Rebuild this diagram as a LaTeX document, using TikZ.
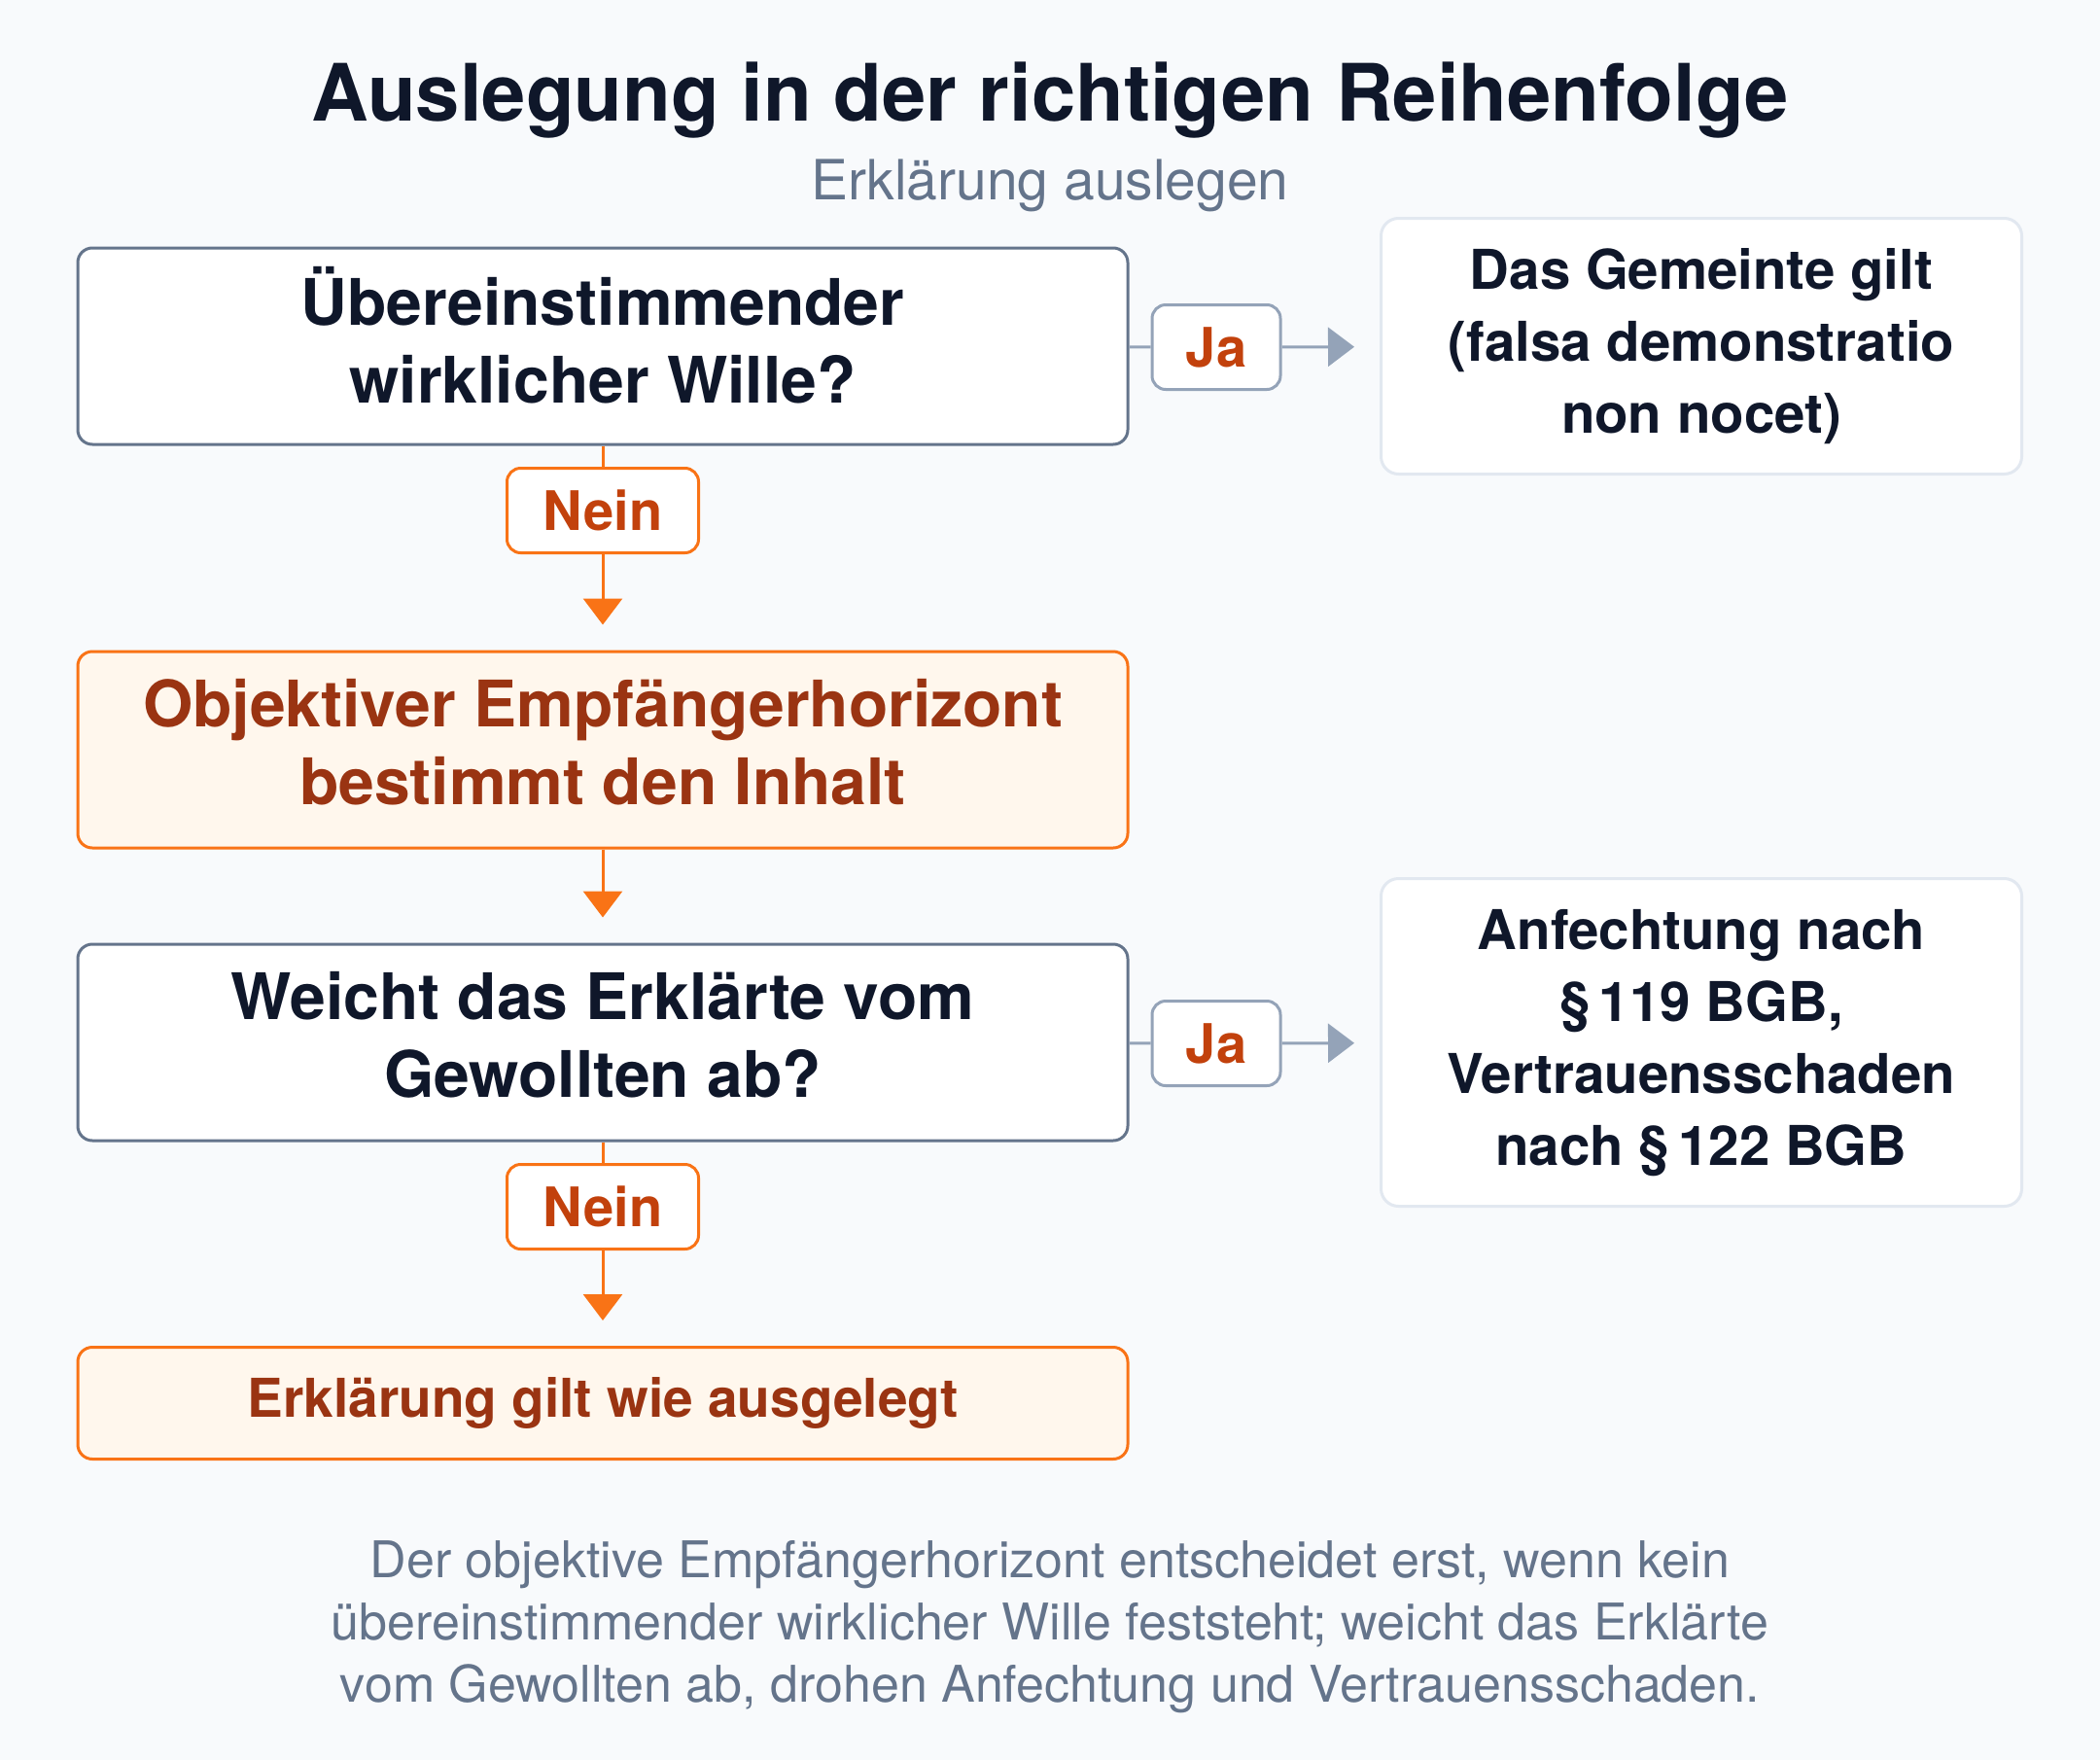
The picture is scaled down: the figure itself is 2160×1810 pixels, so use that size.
\documentclass[tikz,border=0pt]{standalone}
\usepackage{fontspec}
\setmainfont{TeX Gyre Heros}
\usetikzlibrary{arrows.meta}
\definecolor{hintergrund}{HTML}{F8FAFC}
\definecolor{tinte}{HTML}{0F172A}
\definecolor{randgrau}{HTML}{64748B}
\definecolor{hellgrau}{HTML}{E2E8F0}
\definecolor{blaugrau}{HTML}{94A3B8}
\definecolor{orange}{HTML}{F97316}
\definecolor{orangehell}{HTML}{FFF7ED}
\definecolor{orangedunkel}{HTML}{9A3412}
\definecolor{orangetext}{HTML}{C2410C}
% Zeilenstrebe wie eine Zeilenhoehe
\newcommand{\zs}{\rule[-0.29\baselineskip]{0pt}{\baselineskip}}
\begin{document}
\begin{tikzpicture}[x=0.5pt,y=-0.5pt,
  frage/.style={draw=randgrau, fill=white, line width=1.5pt, rounded corners=7.5pt,
    minimum width=540pt, minimum height=101pt, align=center, text=tinte,
    font=\bfseries\fontsize{33}{40}\selectfont},
  ergebnis/.style={frage, draw=orange, fill=orangehell, text=orangedunkel},
  folge/.style={draw=hellgrau, fill=white, line width=1.5pt, rounded corners=9pt,
    minimum width=329.5pt, align=center, text=tinte,
    font=\bfseries\fontsize{28.2}{36.85}\selectfont},
  ja/.style={draw=blaugrau, fill=white, line width=1.5pt, rounded corners=7pt,
    minimum width=66pt, minimum height=43.5pt, text=orangetext,
    font=\bfseries\fontsize{28}{32}\selectfont},
  nein/.style={ja, draw=orange, minimum width=98.5pt},
  pfeil/.style={-{Triangle[length=13.5pt,width=20pt]}, line width=1.5pt, shorten >=13pt}]

  % Hintergrund
  \fill[hintergrund] (0,0) rectangle (2160,1810);
  \useasboundingbox (0,0) rectangle (2160,1810);

  % Titel
  \node[anchor=base, text=tinte, font=\bfseries\fontsize{40.7}{48}\selectfont] (titel) at (1080,124) {Auslegung in der richtigen Reihenfolge};
  \node[anchor=base, text=randgrau, font=\fontsize{28.5}{34}\selectfont] (untertitel) at (1080,205) {Erklärung auslegen};

  % Schritte
  \node[frage] (wille) at (620,356) {\zs Übereinstimmender\\wirklicher Wille?\zs};
  \node[folge, minimum height=131.5pt] (falsa) at (1750,356) {\zs Das Gemeinte gilt\\(falsa demonstratio\\non nocet)\zs};
  \node[ja] (ja1) at (1251,357) {Ja};
  \node[nein] (nein1) at (620,525) {Nein};

  \node[ergebnis] (horizont) at (620,771) {\zs Objektiver Empfängerhorizont\\bestimmt den Inhalt\zs};

  \node[frage] (abweichung) at (620,1072) {\zs Weicht das Erklärte vom\\Gewollten ab?\zs};
  \node[folge, minimum height=168.5pt] (anfechtung) at (1750,1072) {\zs Anfechtung nach\\§\,119 BGB,\\Vertrauensschaden\\nach §\,122 BGB\zs};
  \node[ja] (ja2) at (1251,1073) {Ja};
  \node[nein] (nein2) at (620,1241) {Nein};

  \node[ergebnis, minimum height=57.5pt, font=\bfseries\fontsize{27.5}{32}\selectfont] (gilt) at (620,1443) {Erklärung gilt wie ausgelegt};

  % Verbindungen
  \draw[orange, line width=1.5pt] (wille) -- (nein1);
  \draw[pfeil, orange] (nein1) -- (horizont);
  \draw[pfeil, orange] (horizont) -- (abweichung);
  \draw[orange, line width=1.5pt] (abweichung) -- (nein2);
  \draw[pfeil, orange] (nein2) -- (gilt);

  \draw[blaugrau, line width=1.5pt] (wille) -- (ja1);
  \draw[pfeil, blaugrau] (ja1) -- (falsa);
  \draw[blaugrau, line width=1.5pt] (abweichung) -- (ja2);
  \draw[pfeil, blaugrau] (ja2) -- (anfechtung);

  % Fusszeile
  \node[anchor=base, text=randgrau, align=center, font=\fontsize{26}{32}\selectfont] (fuss) at (1080,1750) {Der objektive Empfängerhorizont entscheidet erst, wenn kein\\übereinstimmender wirklicher Wille feststeht; weicht das Erklärte\\vom Gewollten ab, drohen Anfechtung und Vertrauensschaden.};
\end{tikzpicture}
\end{document}
